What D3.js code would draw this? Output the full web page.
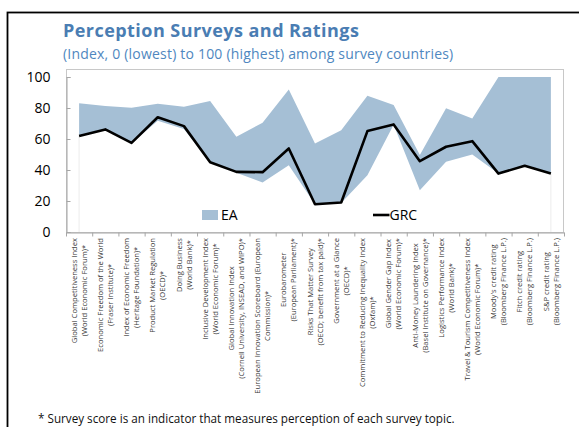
<!DOCTYPE html>
<html>
<head>
<meta charset="utf-8">
<script src="https://cdn.jsdelivr.net/npm/d3@7"></script>
<style>
  html, body { margin: 0; padding: 0; background: #fff; }
  svg { display: block; font-family: "Open Sans", "Noto Sans", sans-serif; }
</style>
</head>
<body>
<svg id="chart" width="579" height="427"></svg>
<script>
// ---------------- DATA ----------------
const titleText = "Perception Surveys and Ratings";
const subtitleText = "(Index, 0 (lowest) to 100 (highest) among survey countries)";
const footnoteText = "* Survey score is an indicator that measures perception of each survey topic.";

const categories = [
  ["Global Competitiveness Index", "(World Economic Forum)*"],
  ["Economic Freedom of the World", "(Fraser Institute)*"],
  ["Index of Economic Freedom", "(Heritage Foundation)*"],
  ["Product Market Regulation", "(OECD)*"],
  ["Doing Business", "(World Bank)*"],
  ["Inclusive Development Index", "(World Economic Forum)*"],
  ["Global Innovation Index", "(Cornell University, INSEAD, and WIPO)*"],
  ["European Innovation Scoreboard (European", "Commission)*"],
  ["Eurobarometer", "(European Parliament)*"],
  ["Risks That Matter Survey", "(OECD; benefit from tax paid)*"],
  ["Government at a Glance", "(OECD)*"],
  ["Commitment to Reducing Inequality Index", "(Oxfam)*"],
  ["Global Gender Gap Index", "(World Economic Forum)*"],
  ["Anti-Money Laundering Index", "(Basel Institute on Governance)*"],
  ["Logistics Performance Index", "(World Bank)*"],
  ["Travel & Tourism Competitiveness Index", "(World Economic Forum)*"],
  ["Moody's credit rating", "(Bloomberg Finance L.P.)"],
  ["Fitch credit rating", "(Bloomberg Finance L.P.)"],
  ["S&P credit rating", "(Bloomberg Finance L.P.)"]
];

// EA range (min / max across euro area countries)
const eaMax = [83, 81.3, 80.2, 82.7, 80.8, 84.5, 61.4, 70.5, 92, 57.1, 65.7, 87.9, 81.9, 49.6, 79.8, 73.3, 100, 100, 100];
const eaMin = [62, 66, 57.5, 71.8, 66.4, 45, 38.2, 31.9, 43.1, 17.9, 18.7, 36.6, 69.2, 27, 45.3, 50, 37.7, 42.7, 37.7];
// Greece
const grc   = [62, 66.2, 57.5, 74, 68.3, 45, 38.8, 38.6, 53.9, 17.9, 19, 65.1, 69.4, 45.7, 55, 58.6, 37.7, 42.7, 37.7];

const yTicks = [0, 20, 40, 60, 80, 100];
const legendLabels = ["EA", "GRC"];

// ---------------- STYLE ----------------
const eaColor = "#a5bfd5";
const titleColor = "#4a7db3";
const subColor = "#4f87c0";

const svg = d3.select("#chart");

// outer frame (only top/left visible)
svg.append("rect")
  .attr("x", 7.5).attr("y", 12.5).attr("width", 700).attr("height", 600)
  .attr("fill", "none").attr("stroke", "#000").attr("stroke-width", 1.8);

// titles
svg.append("text").attr("x", 63).attr("y", 36.5)
  .attr("fill", titleColor).attr("font-weight", 700).attr("font-size", 18)
  .attr("letter-spacing", 0.45)
  .text(titleText);
svg.append("text").attr("x", 63).attr("y", 59)
  .attr("fill", subColor).attr("font-size", 14)
  .attr("letter-spacing", 0.2)
  .text(subtitleText);

// scales
const plotL = 66, plotR = 564, plotTop = 69;
const x = d3.scaleBand().domain(d3.range(categories.length)).range([plotL, plotR]).padding(0);
const cx = i => x(i) + x.bandwidth() / 2;
const y = d3.scaleLinear().domain([0, 100]).range([232, 77]);

// plot box
svg.append("rect")
  .attr("x", plotL + 0.5).attr("y", plotTop + 0.5)
  .attr("width", plotR - plotL - 1).attr("height", y(0) - plotTop)
  .attr("fill", "none").attr("stroke", "#c8c8c8").attr("stroke-width", 1);

// faint edges of the transparent base area
const nLast = categories.length - 1;
[0, nLast].forEach(i => {
  svg.append("line")
    .attr("x1", cx(i)).attr("x2", cx(i))
    .attr("y1", y(eaMin[i])).attr("y2", y(0))
    .attr("stroke", "#ececec").attr("stroke-width", 1);
});

// EA band
const area = d3.area()
  .x((d, i) => cx(i))
  .y0((d, i) => y(eaMin[i]))
  .y1((d, i) => y(eaMax[i]));
svg.append("path").datum(eaMax)
  .attr("d", area).attr("fill", eaColor);

// GRC line
const line = d3.line().x((d, i) => cx(i)).y(d => y(d));
svg.append("path").datum(grc)
  .attr("d", line).attr("fill", "none")
  .attr("stroke", "#000").attr("stroke-width", 2.6)
  .attr("stroke-linejoin", "round");

// y axis
const yAxis = d3.axisLeft(y).tickValues(yTicks).tickSize(-4).tickPadding(16);
const gy = svg.append("g").attr("transform", `translate(${plotL + 0.5},0)`).call(yAxis);
gy.select(".domain").attr("stroke", "#a6a6a6");
gy.selectAll(".tick line").attr("stroke", "#a6a6a6");
gy.selectAll(".tick text").attr("font-size", 14).attr("fill", "#000")
  .attr("font-family", "'Open Sans', sans-serif");

// x axis with boundary ticks
const xb = d3.scaleLinear().domain([0, categories.length]).range([plotL, plotR]);
const xAxis = d3.axisBottom(xb).tickValues(d3.range(categories.length + 1)).tickFormat("").tickSize(4).tickSizeOuter(0);
const gx = svg.append("g").attr("transform", `translate(0,${y(0) + 0.5})`).call(xAxis);
gx.select(".domain").attr("stroke", "#a6a6a6");
gx.selectAll(".tick line").attr("stroke", "#a6a6a6");

// category labels (rotated, two centered lines)
const labelTop = 238;
const lblFont = 7.6;
const lg = svg.append("g").attr("font-size", lblFont).attr("fill", "#3a3a3a");
categories.forEach((lines, i) => {
  const g = lg.append("g").attr("transform", `translate(${cx(i)},${labelTop}) rotate(-90)`);
  const texts = lines.map((t, k) => g.append("text")
    .attr("y", (k - (lines.length - 1) / 2) * 10)
    .attr("dy", "0.35em")
    .attr("text-anchor", "middle")
    .text(t));
  const wmax = d3.max(texts, t => t.node().getComputedTextLength());
  texts.forEach(t => t.attr("x", -wmax / 2));
});

// legend
svg.append("rect").attr("x", 202).attr("y", 210).attr("width", 16).attr("height", 10).attr("fill", eaColor);
svg.append("text").attr("x", 221).attr("y", 215).attr("dy", "0.35em")
  .attr("font-size", 14).attr("fill", "#000").text(legendLabels[0]);
svg.append("line").attr("x1", 373).attr("x2", 389.5).attr("y1", 215).attr("y2", 215)
  .attr("stroke", "#000").attr("stroke-width", 2.6);
svg.append("text").attr("x", 389.5).attr("y", 215).attr("dy", "0.35em")
  .attr("font-size", 14).attr("fill", "#000").text(legendLabels[1]);

// footnote
svg.append("text").attr("x", 38).attr("y", 423)
  .attr("font-size", 11.7).attr("fill", "#111").text(footnoteText);
</script>
</body>
</html>
